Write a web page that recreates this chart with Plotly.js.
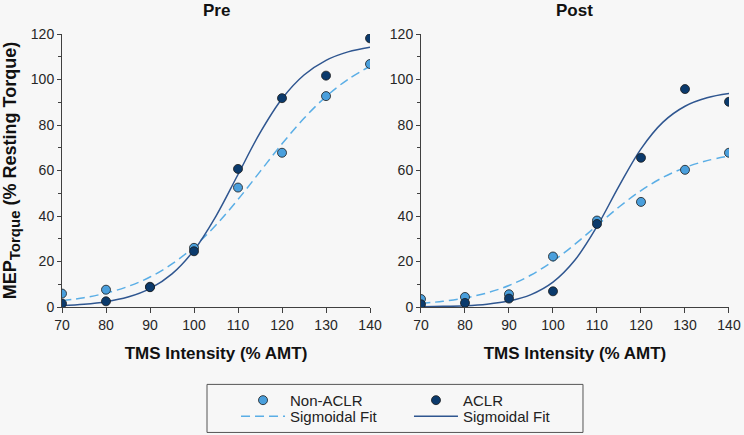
<!DOCTYPE html>
<html>
<head>
<meta charset="utf-8">
<script src="https://cdn.plot.ly/plotly-3.0.1.min.js"></script>
<style>
html,body{margin:0;padding:0;background:#f7f7f7;}
#chart{width:744px;height:435px;}
</style>
</head>
<body>
<div id="chart"></div>
<script>
// Measured points
var tmsIntensity = [70, 80, 90, 100, 110, 120, 130, 140];
var preNonACLR  = [5.9, 7.6, 8.9, 26.0, 52.5, 67.8, 92.7, 106.8];
var preACLR     = [1.5, 2.5, 8.7, 24.5, 60.7, 91.8, 101.7, 118.1];
var postNonACLR = [3.5, 4.4, 5.6, 22.2, 38.0, 46.2, 60.3, 67.8];
var postACLR    = [1.2, 1.8, 3.7, 6.9, 36.5, 65.6, 95.8, 90.2];

// Sigmoidal fit curves
var fitIntensity   = [70, 75, 80, 85, 90, 95, 100, 105, 110, 115, 120, 125, 130, 135, 140];
var preNonACLRFit  = [2.73, 4.10, 6.11, 9.03, 13.18, 18.92, 26.5, 36.06, 47.28, 59.5, 71.72, 82.94, 92.5, 100.08, 105.82];
var preACLRFit     = [0.64, 1.22, 2.32, 4.36, 8.07, 14.54, 24.97, 39.98, 58.25, 76.52, 91.53, 101.96, 108.43, 112.14, 114.18];
var postNonACLRFit = [1.59, 2.52, 3.98, 6.19, 9.45, 14.06, 20.17, 27.61, 35.83, 43.96, 51.17, 56.98, 61.3, 64.33, 66.36];
var postACLRFit    = [0.13, 0.28, 0.59, 1.26, 2.64, 5.46, 10.94, 20.65, 35.38, 53.14, 69.53, 81.27, 88.25, 91.96, 93.81];

var xTicks = [70, 80, 90, 100, 110, 120, 130, 140];
var yTicks = [0, 20, 40, 60, 80, 100, 120];
var panelTitles = ['Pre', 'Post'];
var legendNames = ['Non-ACLR', 'ACLR', 'Sigmoidal Fit', 'Sigmoidal Fit'];

var lightFill = '#4a9fdc';
var darkFill = '#0b3a6c';
var dashColor = '#5aaee6';
var solidColor = '#2f5690';
var outline = '#1a1a1a';
var FONT = 'Liberation Sans, Arial, sans-serif';

function fit(x, y, xa, ya, dashed, leg) {
  return {
    type: 'scatter', mode: 'lines', x: x, y: y, xaxis: xa, yaxis: ya,
    name: dashed ? legendNames[2] : legendNames[3], showlegend: !!leg, legend: leg || 'legend',
    line: {shape: 'spline', smoothing: 1, color: dashed ? dashColor : solidColor, width: 1.5, dash: dashed ? '9px,5px' : 'solid'},
    hoverinfo: 'skip'
  };
}
function pts(x, y, xa, ya, light, leg) {
  return {
    type: 'scatter', mode: 'markers', x: x, y: y, xaxis: xa, yaxis: ya,
    name: light ? legendNames[0] : legendNames[1], showlegend: !!leg, legend: leg || 'legend',
    marker: {size: 9, color: light ? lightFill : darkFill, line: {color: outline, width: 0.8}}
  };
}

var data = [
  fit(fitIntensity, preNonACLRFit, 'x', 'y', true, 'legend2'),
  fit(fitIntensity, preACLRFit, 'x', 'y', false, 'legend4'),
  fit(fitIntensity, postNonACLRFit, 'x2', 'y2', true, null),
  fit(fitIntensity, postACLRFit, 'x2', 'y2', false, null),
  pts(tmsIntensity, preNonACLR, 'x', 'y', true, 'legend'),
  pts(tmsIntensity, preACLR, 'x', 'y', false, 'legend3'),
  pts(tmsIntensity, postNonACLR, 'x2', 'y2', true, null),
  pts(tmsIntensity, postACLR, 'x2', 'y2', false, null)
];

function xax(domain, anchor) {
  return {
    domain: domain, anchor: anchor, range: [70, 140], tickvals: xTicks,
    showgrid: false, zeroline: false, showline: true, linecolor: '#404040', linewidth: 1,
    ticks: 'outside', ticklen: 5, tickcolor: '#404040',
    tickfont: {family: FONT, size: 14, color: '#262626'},
    title: {text: 'TMS Intensity (% AMT)', standoff: 15, font: {family: FONT, size: 17, color: '#111', weight: 'bold'}},
    fixedrange: true
  };
}
function yax(anchor, withTitle) {
  var a = {
    anchor: anchor, range: [0, 120], tickvals: yTicks, domain: [0, 1],
    showgrid: false, zeroline: false, showline: true, linecolor: '#404040', linewidth: 1,
    ticks: 'outside', ticklen: 4, tickcolor: '#404040',
    minor: {dtick: 10, ticks: 'outside', ticklen: 3, tickcolor: '#404040', showgrid: false},
    tickfont: {family: FONT, size: 14, color: '#262626'},
    fixedrange: true
  };
  if (withTitle) {
    a.title = {text: 'MEP<sub><span style="font-size:15px">Torque</span></sub> (% Resting Torque)', standoff: 9,
      font: {family: FONT, size: 18, color: '#111', weight: 'bold'}};
  }
  return a;
}

function leg(x, y) {
  return {
    orientation: 'v', x: x, xanchor: 'left', y: y, yanchor: 'middle',
    bgcolor: 'rgba(0,0,0,0)', borderwidth: 0, itemwidth: 44,
    font: {family: FONT, size: 15, color: '#222'},
    itemclick: false, itemdoubleclick: false
  };
}

var layout = {
  width: 744, height: 435,
  margin: {l: 62, r: 15, t: 34, b: 128.3, autoexpand: false},
  paper_bgcolor: '#f7f7f7', plot_bgcolor: '#f7f7f7',
  showlegend: true,
  xaxis: xax([0, 0.4618], 'y'),
  yaxis: yax('x', true),
  xaxis2: xax([0.5382, 1], 'y2'),
  yaxis2: yax('x2', false),
  annotations: [
    {text: panelTitles[0], xref: 'x domain', x: 0.5, yref: 'paper', y: 1, yanchor: 'bottom', yshift: 12, showarrow: false,
     font: {family: FONT, size: 17, color: '#111', weight: 'bold'}},
    {text: panelTitles[1], xref: 'x2 domain', x: 0.5, yref: 'paper', y: 1, yanchor: 'bottom', yshift: 12, showarrow: false,
     font: {family: FONT, size: 17, color: '#111', weight: 'bold'}}
  ],
  shapes: [
    {type: 'rect', xref: 'paper', yref: 'paper', x0: 0.2174, x1: 0.7811, y0: -0.4595, y1: -0.2835,
     line: {color: '#555', width: 1}, fillcolor: 'rgba(0,0,0,0)'}
  ],
  legend: leg(0.2609, -0.3421),
  legend2: leg(0.2609, -0.4008),
  legend3: leg(0.5202, -0.3421),
  legend4: leg(0.5202, -0.4008)
};

Plotly.newPlot('chart', data, layout, {displayModeBar: false, staticPlot: true});
</script>
</body>
</html>
